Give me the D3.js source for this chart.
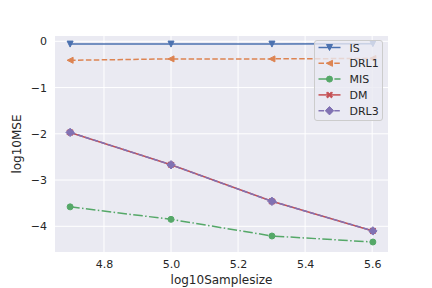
<!DOCTYPE html>
<html>
<head>
<meta charset="utf-8">
<script src="https://cdn.jsdelivr.net/npm/d3@7"></script>
<style>
  body { margin: 0; background: #fff; }
  svg { display: block; font-family: "DejaVu Sans", sans-serif; }
</style>
</head>
<body>
<svg id="chart" width="432" height="288"></svg>
<script>
// sample sizes are 50k, 100k, 200k, 400k on a log10 scale
const sampleSizes = [4.69897, 5.0, 5.30103, 5.60206];
const seriesNames = ["IS", "DRL1", "MIS", "DM", "DRL3"];
const isValues = [-0.06, -0.06, -0.06, -0.05];
const drl1Values = [-0.41, -0.38, -0.38, -0.37];
const misValues = [-3.58, -3.85, -4.21, -4.34];
const dmValues = [-1.97, -2.67, -3.46, -4.10];
const drl3Values = [-1.97, -2.67, -3.46, -4.10];
const xTicks = [4.8, 5.0, 5.2, 5.4, 5.6];
const yTicks = [0, -1, -2, -3, -4];

const series = [
  { name: "IS", values: isValues, color: "#4c72b0", dash: null, marker: "tri_down" },
  { name: "DRL1", values: drl1Values, color: "#dd8452", dash: "5.5,2.4", marker: "tri_left" },
  { name: "MIS", values: misValues, color: "#55a868", dash: "9.6,2.4,1.5,2.4", marker: "circle" },
  { name: "DM", values: dmValues, color: "#c44e52", dash: null, marker: "x" },
  { name: "DRL3", values: drl3Values, color: "#8172b3", dash: "5.5,2.4", marker: "diamond" }
];

const svg = d3.select("#chart");
const margin = { top: 36, right: 44, bottom: 36, left: 55 };
const width = 432, height = 288;

const x = d3.scaleLinear().domain([4.6539, 5.6472]).range([margin.left, width - margin.right]);
const y = d3.scaleLinear().domain([-4.556, 0.115]).range([height - margin.bottom, margin.top]);

svg.append("rect")
  .attr("x", margin.left).attr("y", margin.top)
  .attr("width", width - margin.left - margin.right)
  .attr("height", height - margin.top - margin.bottom)
  .attr("fill", "#eaeaf2");

// grid
svg.append("g").selectAll("line").data(xTicks).join("line")
  .attr("x1", d => x(d)).attr("x2", d => x(d))
  .attr("y1", margin.top).attr("y2", height - margin.bottom)
  .attr("stroke", "#fff").attr("stroke-width", 1);
svg.append("g").selectAll("line").data(yTicks).join("line")
  .attr("y1", d => y(d)).attr("y2", d => y(d))
  .attr("x1", margin.left).attr("x2", width - margin.right)
  .attr("stroke", "#fff").attr("stroke-width", 1);

// axes (no spines, no tick marks)
const xAxis = svg.append("g")
  .attr("transform", `translate(0,${height - margin.bottom})`)
  .call(d3.axisBottom(x).tickValues(xTicks).tickFormat(d3.format(".1f")).tickSize(0).tickPadding(8));
const yAxis = svg.append("g")
  .attr("transform", `translate(${margin.left},0)`)
  .call(d3.axisLeft(y).tickValues(yTicks).tickFormat(d => d === 0 ? "0" : "\u2212" + Math.abs(d)).tickSize(0).tickPadding(8));
[xAxis, yAxis].forEach(a => {
  a.select(".domain").remove();
  a.selectAll("text").attr("font-size", "11px").attr("fill", "#262626").attr("font-family", "DejaVu Sans");
});

svg.append("text")
  .attr("x", (margin.left + width - margin.right) / 2)
  .attr("y", 284)
  .attr("text-anchor", "middle")
  .attr("font-size", "12px").attr("fill", "#262626")
  .text("log10Samplesize");

svg.append("text")
  .attr("transform", `translate(21,${(margin.top + height - margin.bottom) / 2}) rotate(-90)`)
  .attr("text-anchor", "middle")
  .attr("font-size", "12px").attr("fill", "#262626")
  .text("log10MSE");

function markerPath(type) {
  const s = 3;
  switch (type) {
    case "tri_down": return `M0,${s}L${-s},${-s}L${s},${-s}Z`;
    case "tri_left": return `M${-s},0L${s},${-s}L${s},${s}Z`;
    case "circle": return d3.symbol(d3.symbolCircle, Math.PI * s * s)();
    case "diamond": { const r = 4.2; return `M0,${-r}L${r},0L0,${r}L${-r},0Z`; }
    case "x": {
      const a = 1.1, b = 3;
      return `M${-b + a},${-b}L0,${-a}L${b - a},${-b}L${b},${-b + a}L${a},0L${b},${b - a}L${b - a},${b}L0,${a}L${-b + a},${b}L${-b},${b - a}L${-a},0L${-b},${-b + a}Z`;
    }
  }
}

const line = d3.line().x(d => x(d[0])).y(d => y(d[1]));

series.forEach(s => {
  const pts = sampleSizes.map((v, i) => [v, s.values[i]]);
  const g = svg.append("g");
  g.append("path")
    .attr("d", line(pts))
    .attr("fill", "none")
    .attr("stroke", s.color)
    .attr("stroke-width", 1.5)
    .attr("stroke-dasharray", s.dash);
  g.selectAll("path.m").data(pts).join("path")
    .attr("class", "m")
    .attr("transform", d => `translate(${x(d[0])},${y(d[1])})`)
    .attr("d", markerPath(s.marker))
    .attr("fill", s.color)
    .attr("stroke", s.color)
    .attr("stroke-width", 1);
});

// legend
const legend = svg.append("g").attr("transform", "translate(314.5,40.5)");
legend.append("rect")
  .attr("width", 68).attr("height", 80)
  .attr("rx", 2.5)
  .attr("fill", "#eaeaf2").attr("fill-opacity", 0.8)
  .attr("stroke", "#cccccc").attr("stroke-width", 1);

series.forEach((s, i) => {
  const row = legend.append("g").attr("transform", `translate(0,${7 + i * 15.8})`);
  row.append("line")
    .attr("x1", 4).attr("x2", 26)
    .attr("stroke", s.color).attr("stroke-width", 1.5)
    .attr("stroke-dasharray", s.dash);
  row.append("path")
    .attr("transform", "translate(15,0)")
    .attr("d", markerPath(s.marker))
    .attr("fill", s.color).attr("stroke", s.color).attr("stroke-width", 1);
  row.append("text")
    .attr("x", 35).attr("y", 4)
    .attr("font-size", "11px").attr("fill", "#262626")
    .text(s.name);
});
</script>
</body>
</html>
